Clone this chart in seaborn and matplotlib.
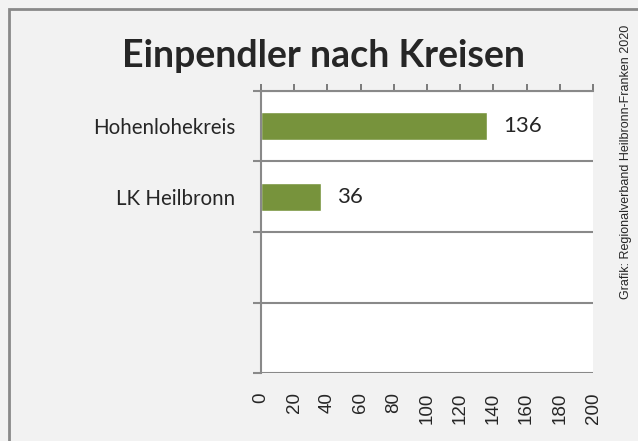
import matplotlib
matplotlib.use("Agg")
import matplotlib.pyplot as plt
import matplotlib.patches as mpatches
from matplotlib.ticker import FixedLocator
import seaborn as sns
import pandas as pd

kreise = ["Hohenlohekreis", "LK Heilbronn"]
einpendler = [136, 36]
title = "Einpendler nach Kreisen"
credit = "Grafik: Regionalverband Heilbronn-Franken 2020"

bar_color = "#77933c"
line_color = "#898989"
bg = "#f2f2f2"

sns.set_style("white")
plt.rcParams["font.family"] = ["Lato", "DejaVu Sans"]

df = pd.DataFrame({"kreis": kreise, "n": einpendler})

fig = plt.figure(figsize=(6.38, 4.41), dpi=100, facecolor=bg)
ax = fig.add_axes([261 / 638, 1 - 373 / 441, 332 / 638, 282 / 441])
ax.set_facecolor("white")

sns.barplot(data=df, y="kreis", x="n", color=bar_color, width=0.4,
            saturation=1, ax=ax, orient="h")

ax.set_xlim(0, 200)
ax.set_ylim(3.5, -0.5)
ax.set_xlabel("")
ax.set_ylabel("")

# x ticks: marks on top edge, labels at bottom
ax.set_xticks(range(0, 201, 20))
ax.tick_params(axis="x", which="major", top=True, bottom=False,
               labeltop=False, labelbottom=True, direction="out",
               length=5, width=1.4, color="#7a7a7a", pad=9,
               labelsize=13.5, labelrotation=90)
for lab in ax.get_xticklabels():
    lab.set_fontfamily("Liberation Sans")

# category boundaries
ax.yaxis.set_minor_locator(FixedLocator([-0.5, 0.5, 1.5, 2.5, 3.5]))
ax.tick_params(axis="y", which="minor", left=True, length=6, width=1.5,
               color=line_color)
ax.tick_params(axis="y", which="major", left=False, labelsize=14.8, pad=15)
ax.grid(axis="y", which="minor", color=line_color, linewidth=1.5)
ax.grid(axis="x", visible=False)

for side in ["right", "bottom"]:
    ax.spines[side].set_visible(False)
ax.spines["left"].set_color(line_color)
ax.spines["left"].set_linewidth(1.5)
ax.spines["top"].set_color(line_color)
ax.spines["top"].set_linewidth(1.5)

for c in ax.containers:
    ax.bar_label(c, padding=12, fontsize=16)

fig.text(324 / 638, 1 - 56 / 441, title, ha="center", va="center",
         fontsize=27, fontweight="bold")
fig.text(626 / 638, 1 - 162 / 441, credit, rotation=90, ha="center",
         va="center", fontsize=9, family=["Liberation Sans Narrow", "Liberation Sans"])

fig.patches.append(mpatches.Rectangle((9 / 638, -0.1), 1.2, 1 - 9 / 441 + 0.1,
                                      transform=fig.transFigure, fill=False,
                                      edgecolor=line_color, linewidth=2))

fig.savefig("out.png", dpi=100, facecolor=bg)
